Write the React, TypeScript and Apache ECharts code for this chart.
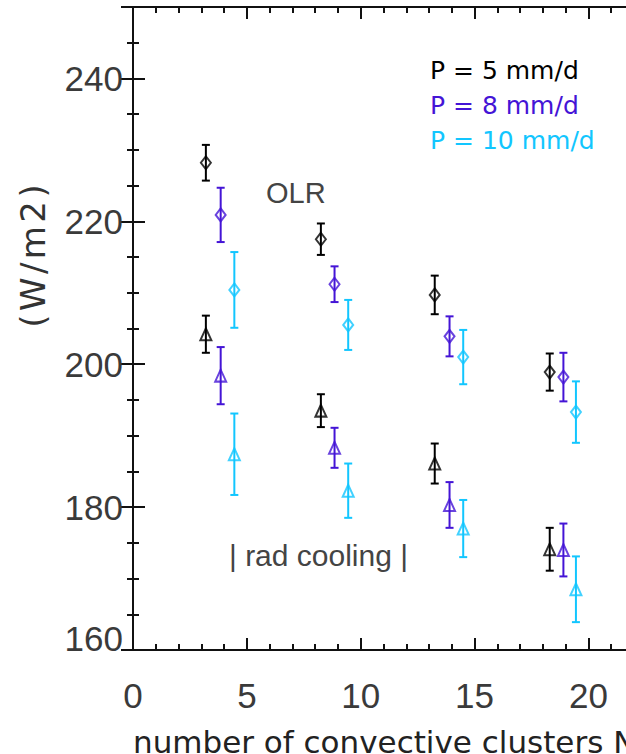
import React, { useEffect, useRef } from "react";
import * as echarts from "echarts";

// number of convective clusters (x) for each precipitation rate
const nP5 = [3.2, 8.25, 13.25, 18.3];
const nP8 = [3.85, 8.85, 13.9, 18.9];
const nP10 = [4.45, 9.45, 14.5, 19.45];

// OLR (W/m2) and its error
const olrP5 = [228.2, 217.5, 209.7, 198.9];
const olrErrP5 = [2.5, 2.2, 2.7, 2.6];
const olrP8 = [220.9, 211.2, 203.9, 198.2];
const olrErrP8 = [3.8, 2.5, 2.8, 3.4];
const olrP10 = [210.4, 205.5, 201.0, 193.3];
const olrErrP10 = [5.3, 3.5, 3.8, 4.3];

// | rad cooling | (W/m2) and its error
const radP5 = [204.2, 193.5, 186.1, 174.1];
const radErrP5 = [2.6, 2.3, 2.8, 3.0];
const radP8 = [198.4, 188.3, 180.3, 174.0];
const radErrP8 = [4.0, 2.8, 3.2, 3.7];
const radP10 = [187.4, 182.3, 177.0, 168.5];
const radErrP10 = [5.7, 3.8, 4.0, 4.6];

const legendLabels = ["P = 5 mm/d", "P = 8 mm/d", "P = 10 mm/d"];
const colors = ["#000000", "#4414d6", "#12c6ff"];

const xMin = 0, xMax = 22;
const yMin = 160, yMax = 250;

const tickFont = "'Liberation Sans', sans-serif";

export default function App() {
  const ref = useRef<HTMLDivElement>(null);
  useEffect(() => {
    if (!ref.current) return;
    const chart = echarts.init(ref.current, undefined, { renderer: "svg" });
    const grid = { left: 133, top: 7, width: 501, height: 643 };

    const groups = [
      { n: nP5, olr: olrP5, olrE: olrErrP5, rad: radP5, radE: radErrP5, c: colors[0] },
      { n: nP8, olr: olrP8, olrE: olrErrP8, rad: radP8, radE: radErrP8, c: colors[1] },
      { n: nP10, olr: olrP10, olrE: olrErrP10, rad: radP10, radE: radErrP10, c: colors[2] },
    ];

    const errSeries = (xs: number[], ys: number[], es: number[], color: string) => ({
      type: "custom",
      xAxisIndex: 0,
      yAxisIndex: 0,
      data: xs.map((x, i) => [x, ys[i] - es[i], ys[i] + es[i]]),
      encode: { x: 0, y: [1, 2] },
      z: 3,
      renderItem: (params: any, api: any) => {
        const x = api.value(0);
        const lo = api.coord([x, api.value(1)]);
        const hi = api.coord([x, api.value(2)]);
        const hw = 4;
        const st = { stroke: color, lineWidth: 2 };
        return {
          type: "group",
          children: [
            { type: "line", shape: { x1: lo[0], y1: lo[1], x2: hi[0], y2: hi[1] }, style: st },
            { type: "line", shape: { x1: lo[0] - hw, y1: lo[1], x2: lo[0] + hw, y2: lo[1] }, style: st },
            { type: "line", shape: { x1: hi[0] - hw, y1: hi[1], x2: hi[0] + hw, y2: hi[1] }, style: st },
          ],
        };
      },
    });

    const markSeries = (xs: number[], ys: number[], color: string, symbol: string, size: number[]) => ({
      type: "scatter",
      xAxisIndex: 0,
      yAxisIndex: 0,
      symbol,
      symbolSize: size,
      z: 4,
      itemStyle: { color: "rgba(255,255,255,0)", borderColor: color, borderWidth: 2 },
      data: xs.map((x, i) => [x, ys[i]]),
    });

    const series: any[] = [];
    groups.forEach((g) => {
      series.push(errSeries(g.n, g.olr, g.olrE, g.c));
      series.push(markSeries(g.n, g.olr, g.c, "diamond", [10, 13]));
      series.push(errSeries(g.n, g.rad, g.radE, g.c));
      series.push(markSeries(g.n, g.rad, g.c, "triangle", [11, 12]));
    });

    const axisLine = { show: true, lineStyle: { color: "#111", width: 2 } };
    const baseX = (position: string, interval: number, len: number, labels: boolean) => ({
      type: "value",
      gridIndex: 0,
      position,
      min: xMin,
      max: xMax,
      interval,
      axisLine,
      axisTick: { show: true, inside: true, length: len, lineStyle: { color: "#111", width: 2 } },
      axisLabel: labels
        ? { show: true, showMaxLabel: false, margin: 28, fontSize: 35, fontFamily: tickFont, color: "#3a3a3a" }
        : { show: false },
      splitLine: { show: false },
    });
    const baseY = (position: string, interval: number, len: number, labels: boolean) => ({
      type: "value",
      gridIndex: 0,
      position,
      min: yMin,
      max: yMax,
      interval,
      axisLine,
      axisTick: { show: true, inside: true, length: len, lineStyle: { color: "#111", width: 2 } },
      axisLabel: labels
        ? {
            show: true,
            showMaxLabel: false,
            margin: 10,
            fontSize: 35,
            fontFamily: tickFont,
            color: "#3a3a3a",
            formatter: (v: number) => (v === yMin ? "{low|" + v + "}" : String(v)),
            rich: {
              low: { fontSize: 35, fontFamily: tickFont, color: "#3a3a3a", padding: [0, 0, 24, 0] },
            },
          }
        : { show: false },
      splitLine: { show: false },
    });

    chart.setOption({
      animation: false,
      backgroundColor: "#ffffff",
      grid,
      xAxis: [
        baseX("bottom", 1, 6, false),
        baseX("bottom", 5, 12, true),
        baseX("top", 1, 6, false),
        baseX("top", 5, 12, false),
      ],
      yAxis: [
        baseY("left", 5, 6, false),
        baseY("left", 20, 12, true),
        baseY("right", 5, 6, false),
        baseY("right", 20, 12, false),
      ],
      series,
      graphic: [
        ...legendLabels.map((t, i) => ({
          type: "text",
          left: 430,
          top: 58 + i * 35,
          style: { text: t, fill: colors[i], font: "25px 'DejaVu Sans'" },
        })),
        {
          type: "text",
          left: 266,
          top: 178,
          style: { text: "OLR", fill: "#444", font: "29px 'Liberation Sans'" },
        },
        {
          type: "text",
          left: 229,
          top: 540,
          style: { text: "| rad cooling |", fill: "#444", font: "30px 'Liberation Sans'" },
        },
        {
          type: "text",
          x: 33,
          y: 256,
          rotation: Math.PI / 2,
          style: {
            text: "(\u200AW\u200A/\u200Am\u200A2\u200A)",
            fill: "#333",
            font: "34px 'DejaVu Sans'",
            align: "center",
            verticalAlign: "middle",
          },
        },
        {
          type: "text",
          left: 133,
          top: 726,
          style: { text: "number of convective clusters N", fill: "#222", font: "31px 'DejaVu Sans'" },
        },
      ],
    });
    return () => chart.dispose();
  }, []);

  return (
    <div style={{ position: "fixed", left: 0, top: 0, width: 626, height: 754, overflow: "hidden", background: "#fff" }}>
      <div ref={ref} style={{ width: 680, height: 754 }} />
    </div>
  );
}
